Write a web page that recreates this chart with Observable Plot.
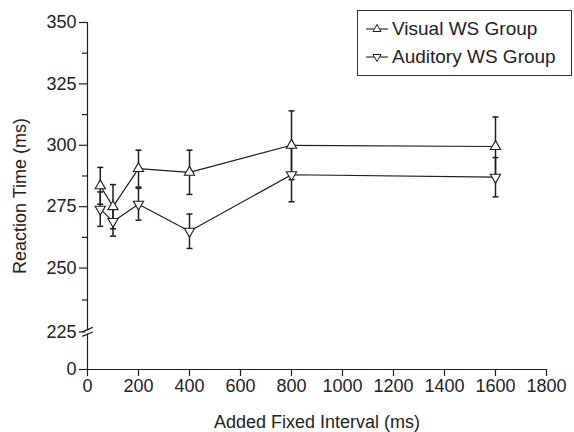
<!DOCTYPE html>
<html><head><meta charset="utf-8">
<script src="https://cdn.jsdelivr.net/npm/d3@7"></script>
<script src="https://cdn.jsdelivr.net/npm/@observablehq/plot@0.6"></script>
<style>
body{margin:0;background:#fff;}
#wrap{position:relative;width:574px;height:432px;font-family:"Liberation Sans",Arial,sans-serif;}
#legend{position:absolute;left:357px;top:10px;width:215px;height:66px;border:1px solid #333;background:#fff;box-sizing:border-box;}
.row{position:absolute;left:8px;height:22px;display:flex;align-items:center;font-size:19px;color:#222;white-space:nowrap;}
.row svg{margin-right:4px;}
</style></head><body><div id="wrap"></div>
<script>
// ---- data ----
const intervals = [50, 100, 200, 400, 800, 1600];
const visualRT = [283.5, 275, 290.5, 289, 300, 299.5];
const visualErr = [7.5, 9, 7.5, 9, 14, 12];
const auditoryRT = [274, 269, 276, 265, 288, 287];
const auditoryErr = [7, 6, 6.5, 7, 11, 8];
const seriesNames = ["Visual WS Group", "Auditory WS Group"];
const xTicks = [0, 200, 400, 600, 800, 1000, 1200, 1400, 1600, 1800];
const yTicks = [0, 225, 250, 275, 300, 325, 350];
const yMinorTicks = [237.5, 262.5, 287.5, 312.5, 337.5];
const yBreakAt = 225;

// ---- broken y axis: compress 0..225 into a short stub ----
const brk = v => v >= 250 ? v : v >= 225 ? 224 + (v - 225) * 26 / 25 : 208.7 + v * (224 - 208.7) / 225;
const yTickPos = yTicks.map(brk);
const yTickLabel = p => String(yTicks[yTickPos.indexOf(p)]);

const data = intervals.flatMap((x, i) => [
  {x, rt: visualRT[i], err: visualErr[i], group: seriesNames[0]},
  {x, rt: auditoryRT[i], err: auditoryErr[i], group: seriesNames[1]}
]);

const ink = "#1e1e1e";
const capSymbol = {draw(ctx, size) { const r = Math.sqrt(size / Math.PI); ctx.moveTo(-r, 0); ctx.lineTo(r, 0); }};
const slashSymbol = {draw(ctx) {
  ctx.moveTo(-5.3, -0.1); ctx.lineTo(5.3, -4.5);
  ctx.moveTo(-5.3, 4.5); ctx.lineTo(5.3, 0.1);
}};
const gapSymbol = {draw(ctx) {
  ctx.moveTo(-2, -0.8); ctx.lineTo(2, -2.4); ctx.lineTo(2, 0.8); ctx.lineTo(-2, 2.4); ctx.closePath();
}};

const font = "Liberation Sans, Arial, sans-serif";
const plot = Plot.plot({
  width: 574, height: 432,
  marginLeft: 87, marginRight: 28, marginTop: 22, marginBottom: 63,
  style: {fontFamily: font, fontSize: "18px", color: "#222", background: "#fff"},
  x: {domain: [0, 1800]},
  y: {domain: [brk(0), 350]},
  marks: [
    Plot.ruleX([0], {stroke: ink, strokeWidth: 1.2}),
    Plot.ruleY([brk(0)], {stroke: ink, strokeWidth: 1.2}),
    Plot.axisX({ticks: xTicks, tickFormat: d => String(d), tickSize: 7, tickPadding: 3, fontSize: 18, stroke: ink, strokeWidth: 1.2,
      label: "Added Fixed Interval (ms)", labelAnchor: "center", labelOffset: 58.5, labelArrow: "none"}),
    Plot.axisY({ticks: yTickPos, tickFormat: yTickLabel, tickSize: 8, tickPadding: 3, fontSize: 18, stroke: ink, strokeWidth: 1.2,
      label: "Reaction Time (ms)", labelAnchor: "center", labelOffset: 74, labelArrow: "none"}),
    Plot.axisY({ticks: yMinorTicks.map(brk), tickSize: 5, stroke: ink, strokeWidth: 1.2, tickFormat: () => "", label: null}),
    Plot.dot([yBreakAt], {x: 0, y: d => brk(d), symbol: gapSymbol, fill: "white", stroke: "none", r: 5}),
    Plot.dot([yBreakAt], {x: 0, y: d => brk(d), symbol: slashSymbol, stroke: ink, strokeWidth: 1.2, r: 5}),
    Plot.line(data, {x: "x", y: "rt", z: "group", stroke: ink, strokeWidth: 1.2}),
    Plot.ruleX(data, {x: "x", y1: d => d.rt - d.err, y2: d => d.rt + d.err, stroke: ink, strokeWidth: 1.5}),
    Plot.dot(data, {x: "x", y: d => d.rt + d.err, symbol: capSymbol, r: 3, stroke: ink, strokeWidth: 1.5}),
    Plot.dot(data, {x: "x", y: d => d.rt - d.err, symbol: capSymbol, r: 3, stroke: ink, strokeWidth: 1.5}),
    Plot.dot(data, {x: "x", y: "rt", symbol: "triangle", r: 3.8, fill: "white", stroke: ink, strokeWidth: 1.1,
      rotate: d => d.group === seriesNames[1] ? 180 : 0})
  ]
});

const wrap = document.getElementById("wrap");
wrap.appendChild(plot);

// legend
const legend = document.createElement("div");
legend.id = "legend";
seriesNames.forEach((name, i) => {
  const row = document.createElement("div");
  row.className = "row";
  row.style.top = (7 + i * 28) + "px";
  const pts = i === 0 ? "7,1.5 11,8.5 3,8.5" : "3,3.5 11,3.5 7,10.5";
  row.innerHTML = `<svg width="22" height="12" viewBox="0 0 22 12"><line x1="0" y1="6" x2="22" y2="6" stroke="${ink}" stroke-width="1.1"/><polygon points="${pts}" transform="translate(4,0)" fill="white" stroke="${ink}" stroke-width="1"/></svg><span>${name}</span>`;
  legend.appendChild(row);
});
wrap.appendChild(legend);
</script>
</body></html>
